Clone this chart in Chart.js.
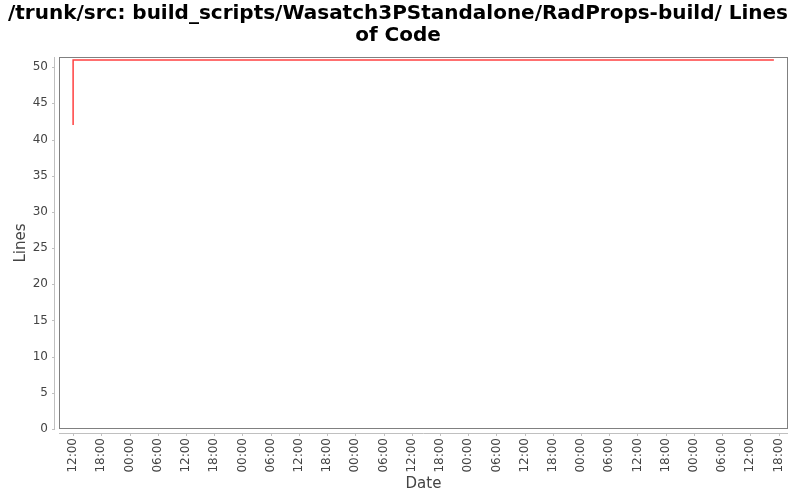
<!DOCTYPE html>
<html>
<head>
<meta charset="utf-8">
<script src="https://cdn.jsdelivr.net/npm/chart.js@4/dist/chart.umd.min.js"></script>
<style>
  html, body { margin: 0; padding: 0; background: #fff; }
  #wrap { width: 800px; height: 500px; }
</style>
</head>
<body>
<div id="wrap"><canvas id="chart"></canvas></div>
<script>
// hours since the first 12:00 tick
const hours = [0, 0, 149];
const lineCounts = [42, 51, 51];
const tickLabels = ["12:00","18:00","00:00","06:00","12:00","18:00","00:00","06:00","12:00","18:00",
  "00:00","06:00","12:00","18:00","00:00","06:00","12:00","18:00","00:00","06:00",
  "12:00","18:00","00:00","06:00","12:00","18:00"];
const tickHours = tickLabels.map((_, i) => i * 6);
const yTicks = [0, 5, 10, 15, 20, 25, 30, 35, 40, 45, 50];

const FONT = "'DejaVu Sans', sans-serif";

// plot frame plus axes drawn slightly off the plot, like the original
const frame = {
  id: 'frame',
  afterDraw(chart) {
    const ctx = chart.ctx, a = chart.chartArea;
    const xs = chart.scales.x, ys = chart.scales.y;
    ctx.save();
    ctx.strokeStyle = '#808080';
    ctx.lineWidth = 1;
    ctx.strokeRect(a.left + 0.5, a.top + 0.5, a.right - a.left - 1, a.bottom - a.top - 1);
    ctx.strokeStyle = '#c0c0c0';
    ctx.beginPath();
    ctx.moveTo(a.left - 4.5, a.top);
    ctx.lineTo(a.left - 4.5, a.bottom);
    ys.ticks.forEach(t => {
      const y = Math.round(ys.getPixelForValue(t.value)) + 0.5;
      ctx.moveTo(a.left - 7, y);
      ctx.lineTo(a.left - 4, y);
    });
    ctx.moveTo(a.left, a.bottom + 4.5);
    ctx.lineTo(a.right, a.bottom + 4.5);
    xs.ticks.forEach(t => {
      const x = Math.round(xs.getPixelForValue(t.value)) + 0.5;
      ctx.moveTo(x, a.bottom + 4);
      ctx.lineTo(x, a.bottom + 7);
    });
    ctx.stroke();
    ctx.restore();
  }
};

new Chart(document.getElementById('chart'), {
  type: 'line',
  data: {
    datasets: [{
      label: 'Lines of Code',
      data: hours.map((h, i) => ({ x: h, y: lineCounts[i] })),
      borderColor: '#ff4040',
      borderWidth: 1.5,
      pointRadius: 0,
      fill: false,
      tension: 0
    }]
  },
  options: {
    responsive: true,
    maintainAspectRatio: false,
    animation: false,
    layout: { padding: { left: 8, right: 12, top: 3, bottom: 7 } },
    plugins: {
      legend: { display: false },
      tooltip: { enabled: false },
      title: {
        display: true,
        text: ['/trunk/src: build_scripts/Wasatch3PStandalone/RadProps-build/ Lines', 'of Code'],
        color: '#000',
        font: { family: FONT, size: 20, weight: 'bold', lineHeight: 1.1 },
        padding: { top: 0, bottom: 10 }
      }
    },
    scales: {
      x: {
        type: 'linear',
        min: -3,
        max: 152,
        afterBuildTicks: s => { s.ticks = tickHours.map(v => ({ value: v })); },
        afterFit: s => { s.height = 64; s.paddingLeft = 0; s.paddingRight = 0; },
        grid: { display: false, drawTicks: false },
        border: { display: false },
        ticks: {
          autoSkip: false,
          minRotation: 90,
          maxRotation: 90,
          padding: 9,
          color: '#444',
          font: { family: FONT, size: 12 },
          callback: (v) => tickLabels[tickHours.indexOf(v)]
        },
        title: {
          display: true,
          text: 'Date',
          color: '#444',
          font: { family: FONT, size: 15 },
          padding: { top: 2, bottom: 0 }
        }
      },
      y: {
        min: 0,
        max: 51.4,
        afterBuildTicks: s => { s.ticks = yTicks.map(v => ({ value: v })); },
        afterFit: s => { s.width = 51; },
        grid: { display: false, drawTicks: false },
        border: { display: false },
        ticks: {
          padding: 11,
          color: '#444',
          font: { family: FONT, size: 12 }
        },
        title: {
          display: true,
          text: 'Lines',
          color: '#444',
          font: { family: FONT, size: 15 },
          padding: { top: 4, bottom: 4 }
        }
      }
    }
  },
  plugins: [frame]
});
</script>
</body>
</html>
